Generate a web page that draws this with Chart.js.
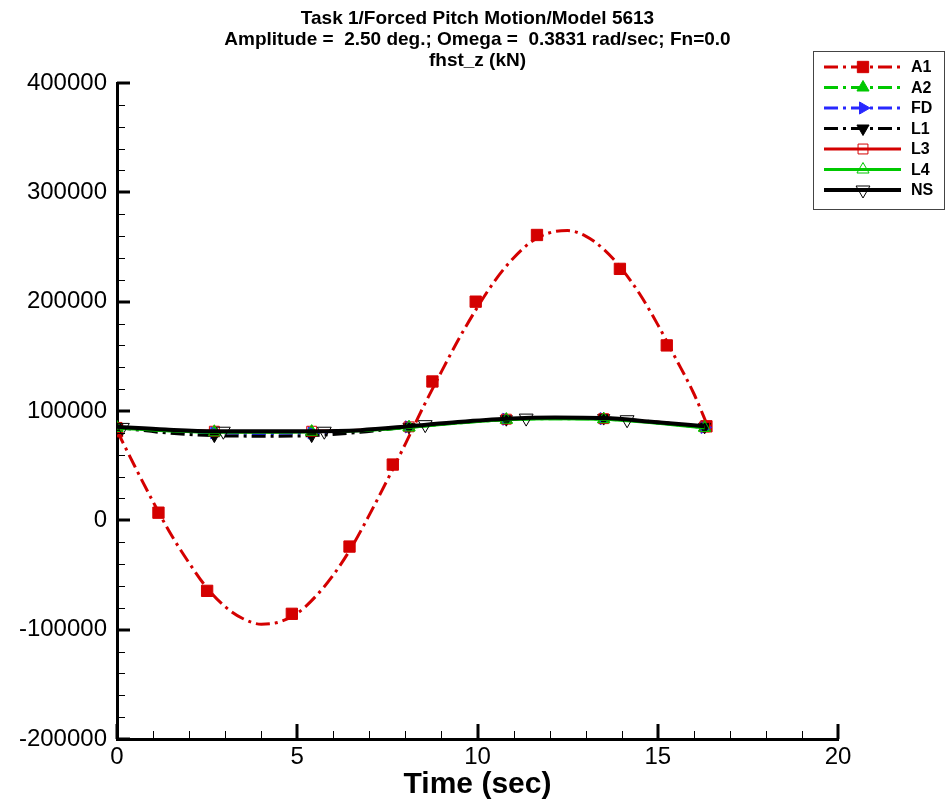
<!DOCTYPE html>
<html lang="en">
<head>
<meta charset="UTF-8">
<title>fhst_z (kN)</title>
<script src="https://cdn.jsdelivr.net/npm/chart.js"></script>
<style>
  body { margin: 0; background: #fff; }
  canvas { display: block; }
</style>
</head>
<body>
<canvas id="myChart" width="949" height="805"></canvas>
<script>
// A1 curve
const a1T = [0, 0.5, 1, 1.5, 2, 2.5, 3, 3.5, 4, 4.5, 5, 5.5, 6, 6.5, 7, 7.5, 8, 8.5,
             9, 9.5, 10, 10.5, 11, 11.5, 12, 12.5, 13, 13.5, 14, 14.5, 15, 15.5, 16, 16.4];
const a1Y = [82000, 49000, 17000, -13000, -39000, -62000, -79000, -90000, -95000, -93000,
             -85000, -70000, -50000, -25000, 5000, 37000, 70000, 104000, 136000, 167000,
             195000, 220000, 240000, 255000, 263000, 265000, 260000, 248000, 230000, 207000,
             179000, 148000, 116000, 85000];
const a1MarkT = [0, 1.15, 2.5, 4.85, 6.45, 7.65, 8.75, 9.95, 11.65, 13.95, 15.25, 16.35];
const a1MarkY = [81500, 7000, -64500, -85500, -24000, 51000, 127000, 200000, 261000, 230000, 160000, 86000];

// the other six runs share one time base
const midT = [0, 1.35, 2.7, 4.05, 5.4, 6.75, 8.1, 9.45, 10.8, 12.15, 13.5, 14.9, 16.3];
const a2Y = [85000, 82500, 81000, 80500, 81000, 82000, 85000, 89000, 92000, 93000, 92500, 89500, 85000];
const fdY = [85000, 82000, 80000, 79500, 80000, 82000, 85500, 89500, 92500, 93500, 93000, 89500, 85000];
const l1Y = [85000, 80000, 77500, 77000, 77500, 80500, 85500, 89500, 92500, 94000, 93500, 90000, 85500];
const l3Y = [85000, 82500, 81500, 81000, 81500, 82500, 85500, 89500, 92500, 93500, 93000, 90000, 85500];
const l4Y = [84500, 82000, 80500, 80500, 81000, 82000, 85000, 89000, 92000, 93000, 92500, 89000, 84500];
const nsY = [85500, 83000, 81500, 81500, 81500, 82500, 86000, 90000, 93000, 94000, 93500, 90000, 86000];

const midMarkT = [0, 2.7, 5.4, 8.1, 10.8, 13.5, 16.3];
const a2MarkY = [85000, 81000, 81000, 85000, 92000, 92500, 85000];
const fdMarkY = [85000, 80000, 80000, 85500, 92500, 93000, 85000];
const l1MarkY = [85000, 77500, 77500, 85500, 92500, 93500, 85500];
const l3MarkY = [85000, 81500, 81500, 85500, 92500, 93000, 85500];
const l4MarkY = [84500, 80500, 81000, 85000, 92000, 92500, 84500];
const nsMarkT = [0.15, 2.95, 5.75, 8.55, 11.35, 14.15];
const nsMarkY = [85000, 81500, 81500, 87500, 93500, 92000];

const titleLines = ['Task 1/Forced Pitch Motion/Model 5613',
                    'Amplitude =  2.50 deg.; Omega =  0.3831 rad/sec; Fn=0.0',
                    'fhst_z (kN)'];

const RED = '#d40000', GREEN = '#00c800', BLUE = '#2828ff', BLACK = '#000000';
const DASHDOT = [14, 5, 3, 5];

const series = [
    { label: 'A1', t: a1T, y: a1Y, mt: a1MarkT, my: a1MarkY, color: RED, dash: DASHDOT, width: 3,
      style: 'rect', rot: 0, r: 8, fill: true },
    { label: 'A2', t: midT, y: a2Y, mt: midMarkT, my: a2MarkY, color: GREEN, dash: DASHDOT, width: 3,
      style: 'triangle', rot: 0, r: 7, fill: true },
    { label: 'FD', t: midT, y: fdY, mt: midMarkT, my: fdMarkY, color: BLUE, dash: DASHDOT, width: 3,
      style: 'triangle', rot: 90, r: 7, fill: true },
    { label: 'L1', t: midT, y: l1Y, mt: midMarkT, my: l1MarkY, color: BLACK, dash: DASHDOT, width: 3,
      style: 'triangle', rot: 180, r: 7, fill: true },
    { label: 'L3', t: midT, y: l3Y, mt: midMarkT, my: l3MarkY, color: RED, dash: [], width: 3,
      style: 'rect', rot: 0, r: 7, fill: false },
    { label: 'L4', t: midT, y: l4Y, mt: midMarkT, my: l4MarkY, color: GREEN, dash: [], width: 3,
      style: 'triangle', rot: 0, r: 7, fill: false },
    { label: 'NS', t: midT, y: nsY, mt: nsMarkT, my: nsMarkY, color: BLACK, dash: [], width: 4,
      style: 'triangle', rot: 180, r: 8, fill: false }
];

function toPoints(ts, ys) {
    return ts.map((t, i) => ({ x: t, y: ys[i] }));
}

const datasets = [];
series.forEach((s, k) => {
    datasets.push({
        label: s.label,
        data: toPoints(s.t, s.y),
        showLine: true,
        borderColor: s.color,
        borderWidth: s.width,
        borderDash: s.dash,
        pointRadius: 0,
        cubicInterpolationMode: 'monotone',
        order: 40 - 2 * k
    });
    datasets.push({
        label: s.label + ' symbols',
        data: toPoints(s.mt, s.my),
        showLine: false,
        pointStyle: s.style,
        rotation: s.rot,
        pointRadius: s.r,
        pointBorderWidth: 1,
        pointBorderColor: s.color,
        pointBackgroundColor: s.fill ? s.color : 'rgba(0,0,0,0)',
        order: 39 - 2 * k
    });
});

// ticks drawn inward, like the original plot
const inwardTicks = {
    id: 'inwardTicks',
    afterDatasetsDraw(chart) {
        const ctx = chart.ctx;
        const xs = chart.scales.x, ys = chart.scales.y;
        const area = chart.chartArea;
        ctx.save();
        ctx.strokeStyle = '#000';
        for (let v = 0; v <= 20; v++) {
            const px = Math.round(xs.getPixelForValue(v));
            const major = v % 5 === 0;
            ctx.lineWidth = major ? 3 : 1;
            ctx.beginPath();
            ctx.moveTo(px + (major ? 0 : 0.5), area.bottom);
            ctx.lineTo(px + (major ? 0 : 0.5), area.bottom - (major ? 15 : 8));
            ctx.stroke();
        }
        for (let v = -200000; v <= 400000; v += 20000) {
            const py = Math.round(ys.getPixelForValue(v));
            const major = v % 100000 === 0;
            ctx.lineWidth = major ? 3 : 1;
            ctx.beginPath();
            ctx.moveTo(area.left, py + (major ? 0 : 0.5));
            ctx.lineTo(area.left + (major ? 13 : 8), py + (major ? 0 : 0.5));
            ctx.stroke();
        }
        ctx.restore();
    }
};

const titleAndLegend = {
    id: 'titleAndLegend',
    afterDraw(chart) {
        const ctx = chart.ctx;
        const area = chart.chartArea;
        ctx.save();
        ctx.fillStyle = '#000';
        ctx.font = 'bold 19px Arial';
        ctx.textAlign = 'center';
        ctx.textBaseline = 'middle';
        const cx = (area.left + area.right) / 2;
        [19, 40, 61].forEach((yy, i) => ctx.fillText(titleLines[i], cx, yy));

        // legend box
        const bx = 813.5, by = 51.5, bw = 131, bh = 158;
        ctx.fillStyle = '#fff';
        ctx.fillRect(bx, by, bw, bh);
        ctx.strokeStyle = '#444';
        ctx.lineWidth = 1;
        ctx.strokeRect(bx, by, bw, bh);

        series.forEach((s, i) => {
            const yy = 67 + i * 20.5;
            ctx.save();
            ctx.strokeStyle = s.color;
            ctx.lineWidth = s.width;
            ctx.setLineDash(s.dash);
            ctx.beginPath();
            ctx.moveTo(824, yy);
            ctx.lineTo(901, yy);
            ctx.stroke();
            ctx.restore();

            ctx.save();
            ctx.strokeStyle = s.color;
            ctx.fillStyle = s.fill ? s.color : 'rgba(0,0,0,0)';
            ctx.lineWidth = 1;
            Chart.helpers.drawPoint(ctx, { pointStyle: s.style, rotation: s.rot, radius: s.r, borderWidth: 1 }, 863, yy);
            ctx.restore();

            ctx.fillStyle = '#000';
            ctx.font = 'bold 16px Arial';
            ctx.textAlign = 'left';
            ctx.fillText(s.label, 911, yy + 1);
        });
        ctx.restore();
    }
};

new Chart(document.getElementById('myChart'), {
    type: 'scatter',
    data: { datasets: datasets },
    options: {
        responsive: false,
        animation: false,
        layout: { padding: { top: 83, right: 111, bottom: 0, left: 0 } },
        plugins: {
            legend: { display: false },
            title: { display: false },
            tooltip: { enabled: false }
        },
        scales: {
            x: {
                type: 'linear',
                min: 0,
                max: 20,
                ticks: {
                    stepSize: 5,
                    color: '#000',
                    padding: 4,
                    font: { family: 'Arial', size: 24 },
                    callback: v => String(v)
                },
                grid: { display: false, drawTicks: false },
                border: { display: true, color: '#000', width: 3 },
                title: {
                    display: true,
                    text: 'Time (sec)',
                    color: '#000',
                    font: { family: 'Arial', size: 30, weight: 'bold' },
                    padding: { top: 0, bottom: 2 }
                },
                afterFit(scale) { scale.height = 66; }
            },
            y: {
                type: 'linear',
                min: -200000,
                max: 400000,
                ticks: {
                    stepSize: 100000,
                    color: '#000',
                    padding: 10,
                    font: { family: 'Arial', size: 24 },
                    callback: v => String(v)
                },
                grid: { display: false, drawTicks: false },
                border: { display: true, color: '#000', width: 3 },
                afterFit(scale) { scale.width = 117; }
            }
        }
    },
    plugins: [inwardTicks, titleAndLegend]
});
</script>
</body>
</html>
